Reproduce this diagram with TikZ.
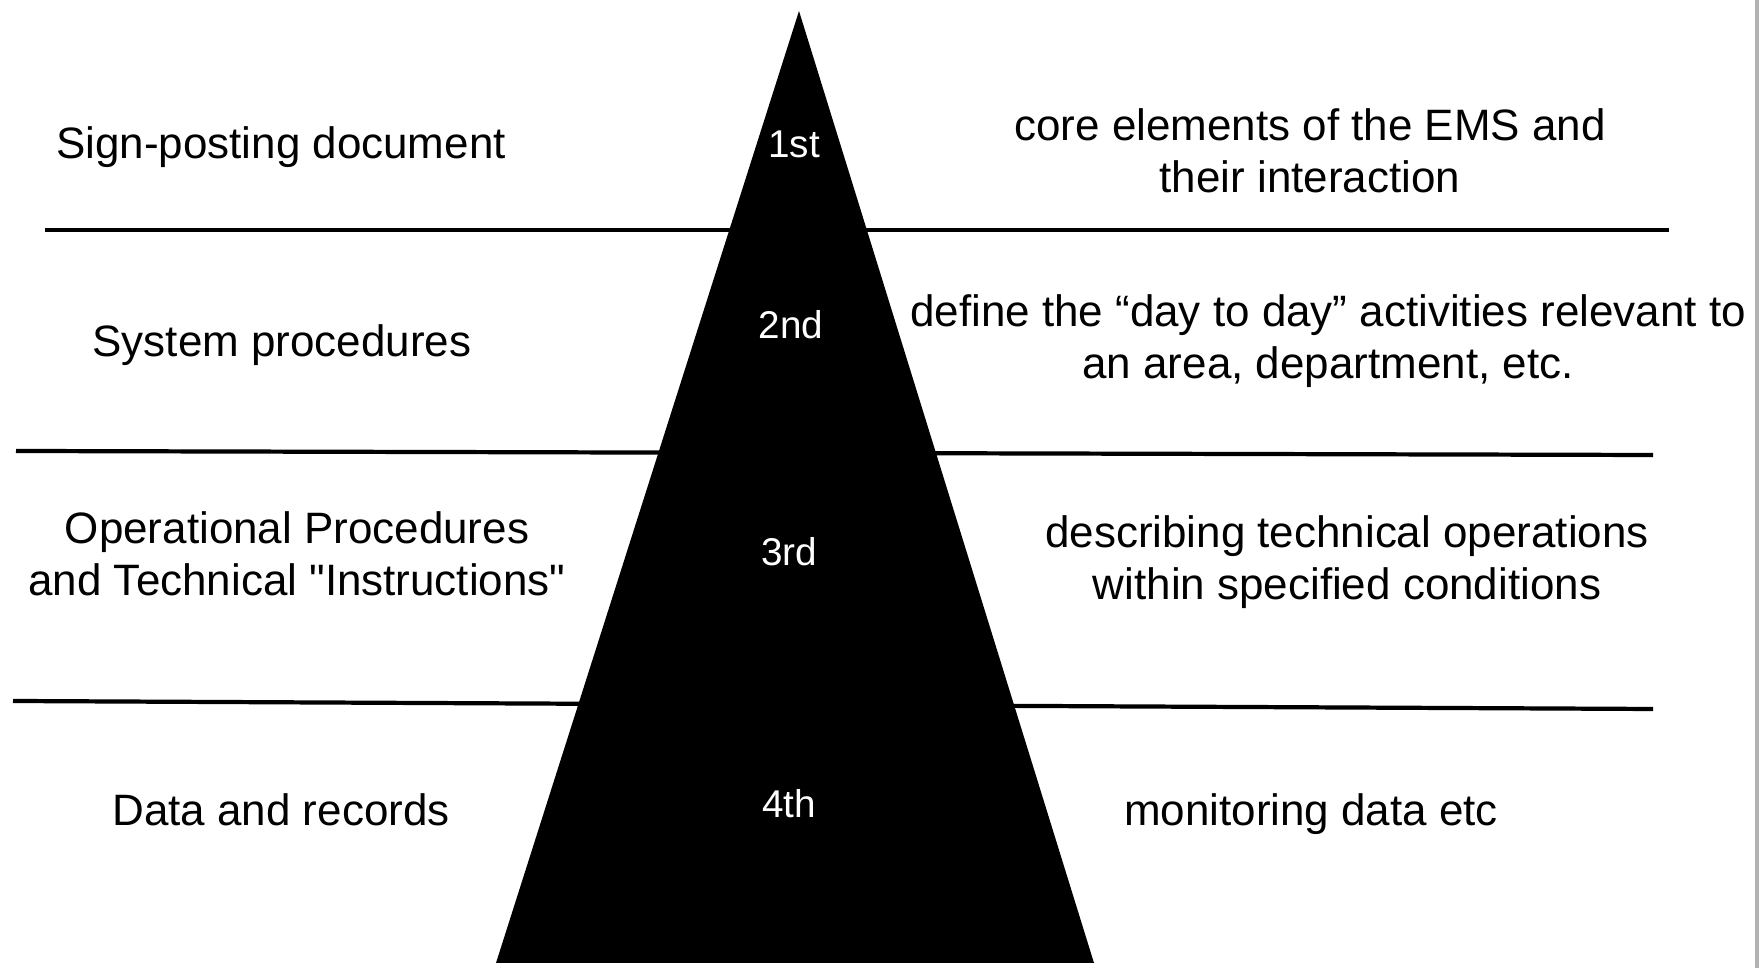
\documentclass[tikz,border=0pt]{standalone}
\usepackage{fontspec}
\setmainfont{Liberation Sans}[Ligatures=TeXOff]
\usepackage{tikz}
\tikzset{layer/.style={align=center, font=\fontsize{12.5}{14.7}\selectfont}}
\tikzset{purpose/.style={align=center, font=\fontsize{12.5}{14.7}\selectfont}}
\tikzset{rank/.style={text=white, font=\fontsize{11}{13}\selectfont}}
\tikzset{divider/.style={draw=black, line width=1.2pt}}

\begin{document}
\begin{tikzpicture}[x=0.01cm, y=-0.01cm]
  \useasboundingbox (0,0) rectangle (1760,968);
  % Dividers
  \coordinate (d1w) at (45,230);  \coordinate (d1e) at (1669,230);
  \coordinate (d2w) at (16,451);  \coordinate (d2e) at (1653,455);
  \coordinate (d3w) at (13,701);  \coordinate (d3e) at (1653,709);
  \draw[divider] (d1w) -- (d1e);
  \draw[divider] (d2w) -- (d2e);
  \draw[divider] (d3w) -- (d3e);
  % Pyramid
  \coordinate (apex) at (799,11);
  \coordinate (bl) at (496,963);
  \coordinate (br) at (1094,963);
  \fill[black] (apex) -- (bl) -- (br) -- cycle;
  \draw[gray!60, line width=1pt] (1757,0) -- (1757,968);
  % Nodes
  \node[layer] (sign) at (281,147) {Sign-posting document};
  \node[layer] (sys) at (282,345) {System procedures};
  \node[layer] (ops) at (297,554) {Operational Procedures\\and Technical "Instructions"};
  \node[layer] (data) at (281,810) {Data and records};
  \node[rank] (first) at (794,144) {1st};
  \node[rank] (second) at (791,325) {2nd};
  \node[rank] (third) at (789,552) {3rd};
  \node[rank] (fourth) at (789,804) {4th};
  \node[purpose] (core) at (1310,151) {core elements of the EMS and\\their interaction};
  \node[purpose] (daily) at (1328,341) {define the “day to day” activities relevant to\\an area, department, etc.};
  \node[purpose] (tech) at (1347,562) {describing technical operations\\within specified conditions};
  \node[purpose] (mon) at (1311,814) {monitoring data etc};
\end{tikzpicture}
\end{document}
